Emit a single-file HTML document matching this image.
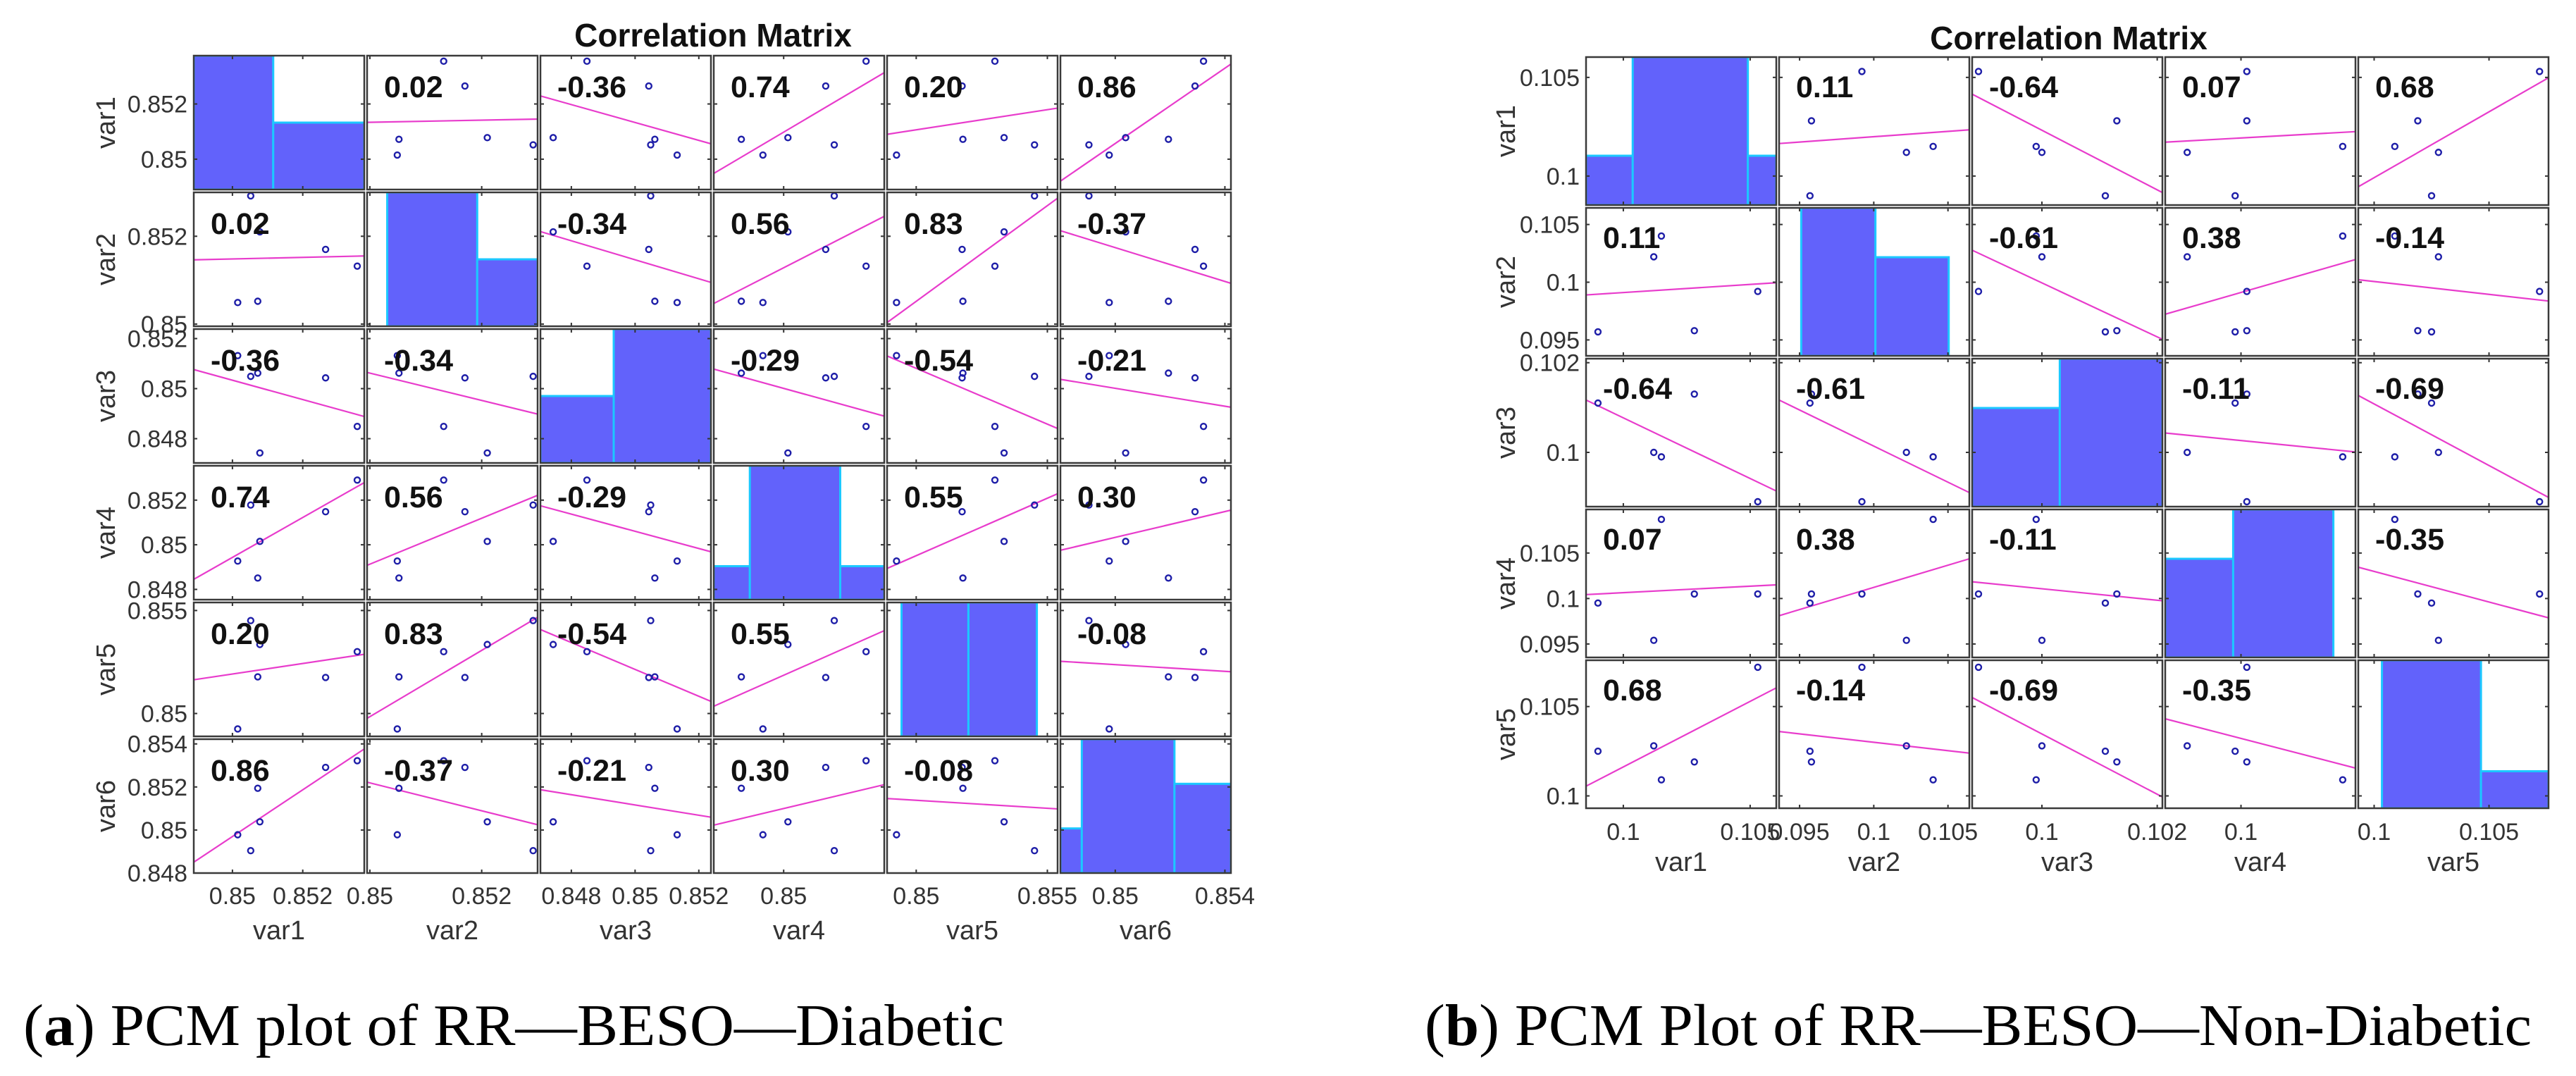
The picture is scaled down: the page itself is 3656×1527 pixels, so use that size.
<!DOCTYPE html>
<html>
<head>
<meta charset="utf-8">
<style>
  html, body { margin: 0; padding: 0; background: #ffffff; }
  body { width: 3656px; height: 1522px; overflow: hidden; }
  svg text { font-family: "Liberation Sans", Arial, sans-serif; }
  .cap { font-family: "Liberation Serif", "Times New Roman", serif; }
</style>
</head>
<body>
<svg id="fig" xmlns="http://www.w3.org/2000/svg" width="3656" height="1522" viewBox="0 0 3656 1522">
  <rect x="0" y="0" width="3656" height="1522" fill="#ffffff"/>
  <text x="1012" y="66" text-anchor="middle" font-size="46" font-weight="bold" fill="#111">Correlation Matrix</text>
  <text x="2936" y="70" text-anchor="middle" font-size="46" font-weight="bold" fill="#111">Correlation Matrix</text>
  <text class="cap" x="33" y="1483" font-size="84" fill="#000" textLength="1392" lengthAdjust="spacingAndGlyphs">(<tspan font-weight="bold">a</tspan>) PCM plot of RR—BESO—Diabetic</text>
  <text class="cap" x="2022" y="1483" font-size="84" fill="#000" textLength="1571" lengthAdjust="spacingAndGlyphs">(<tspan font-weight="bold">b</tspan>) PCM Plot of RR—BESO—Non-Diabetic</text>
  <g id="left-panel"></g>
  <g id="right-panel"></g>
</svg>
<script>
// ---------- Left panel (Diabetic) data: 6 observations ----------
const leftNames = ['var1', 'var2', 'var3', 'var4', 'var5', 'var6'];
const leftVar1 = [0.85015, 0.85052, 0.85078, 0.85072, 0.85265, 0.85355];
const leftVar2 = [0.85049, 0.85292, 0.85210, 0.85052, 0.85170, 0.85132];
const leftVar3 = [0.85132, 0.85049, 0.84743, 0.85062, 0.85043, 0.84849];
const leftVar4 = [0.84927, 0.85178, 0.85015, 0.84851, 0.85148, 0.85290];
const leftVar5 = [0.84925, 0.85451, 0.85335, 0.85178, 0.85175, 0.85300];
const leftVar6 = [0.84978, 0.84904, 0.85038, 0.85194, 0.85291, 0.85322];
const leftLo = [0.84890, 0.84995, 0.84703, 0.84754, 0.84889, 0.84800];
const leftHi = [0.85375, 0.85300, 0.85238, 0.85354, 0.85539, 0.85422];
const leftTicks1 = [0.85, 0.852];
const leftTicks2 = [0.85, 0.852];
const leftTicks3 = [0.848, 0.85, 0.852];
const leftXTicks4 = [0.85];
const leftYTicks4 = [0.848, 0.85, 0.852];
const leftTicks5 = [0.85, 0.855];
const leftXTicks6 = [0.85, 0.854];
const leftYTicks6 = [0.848, 0.85, 0.852, 0.854];
const leftHistEdges1 = [0.84890, 0.85116, 0.85375];
const leftHistCounts1 = [4, 2];
const leftHistEdges2 = [0.85031, 0.85192, 0.85300];
const leftHistCounts2 = [4, 2];
const leftHistEdges3 = [0.84703, 0.84933, 0.85238];
const leftHistCounts3 = [2, 4];
const leftHistEdges4 = [0.84754, 0.84881, 0.85199, 0.85354];
const leftHistCounts4 = [1, 4, 1];
const leftHistEdges5 = [0.84944, 0.85199, 0.85460];
const leftHistCounts5 = [3, 3];
const leftHistEdges6 = [0.84800, 0.84878, 0.85216, 0.85422];
const leftHistCounts6 = [1, 3, 2];
const leftCorrRow1 = ['0.02', '-0.36', '0.74', '0.20', '0.86'];
const leftCorrRow2 = ['-0.34', '0.56', '0.83', '-0.37'];
const leftCorrRow3 = ['-0.29', '-0.54', '-0.21'];
const leftCorrRow4 = ['0.55', '0.30'];
const leftCorrRow5 = ['-0.08'];

// ---------- Right panel (Non-Diabetic) data: 5 observations ----------
const rightNames = ['var1', 'var2', 'var3', 'var4', 'var5'];
const rightVar1 = [0.1053, 0.1028, 0.1012, 0.1015, 0.0990];
const rightVar2 = [0.0992, 0.0958, 0.1022, 0.1040, 0.0957];
const rightVar3 = [0.0989, 0.1013, 0.1000, 0.0999, 0.1011];
const rightVar4 = [0.1005, 0.1005, 0.0954, 0.1087, 0.0995];
const rightVar5 = [0.1072, 0.1019, 0.1028, 0.1009, 0.1025];
const rightLo = [0.09853, 0.09362, 0.09879, 0.09352, 0.09931];
const rightHi = [0.10603, 0.10644, 0.10209, 0.10979, 0.10759];
const rightTicks1 = [0.1, 0.105];
const rightTicks2 = [0.095, 0.1, 0.105];
const rightTicks3 = [0.1, 0.102];
const rightXTicks4 = [0.1];
const rightYTicks4 = [0.095, 0.1, 0.105];
const rightTicks5 = [0.1, 0.105];
const rightHistEdges1 = [0.09853, 0.10037, 0.10491, 0.10603];
const rightHistCounts1 = [1, 3, 1];
const rightHistEdges2 = [0.09511, 0.10011, 0.10505];
const rightHistCounts2 = [3, 2];
const rightHistEdges3 = [0.09879, 0.10031, 0.10209];
const rightHistCounts3 = [2, 3];
const rightHistEdges4 = [0.09352, 0.09933, 0.10790];
const rightHistCounts4 = [2, 3];
const rightHistEdges5 = [0.10034, 0.10465, 0.10759];
const rightHistCounts5 = [4, 1];
const rightCorrRow1 = ['0.11', '-0.64', '0.07', '0.68'];
const rightCorrRow2 = ['-0.61', '0.38', '-0.14'];
const rightCorrRow3 = ['-0.11', '-0.69'];
const rightCorrRow4 = ['-0.35'];

const NS = 'http://www.w3.org/2000/svg';
function mk(tag, attrs) {
  const e = document.createElementNS(NS, tag);
  for (const k in attrs) e.setAttribute(k, attrs[k]);
  return e;
}
function fmt(v) { return String(+v.toFixed(4)); }

function drawPanel(root, cfg) {
  const n = cfg.names.length;
  const defs = mk('defs', {});
  root.appendChild(defs);
  for (let i = 0; i < n; i++) {
    for (let j = 0; j < n; j++) {
      const cx = cfg.left + j * (cfg.cw + cfg.gap);
      const cy = cfg.top + i * (cfg.ch + cfg.gap);
      const xs = v => cx + (v - cfg.lo[j]) / (cfg.hi[j] - cfg.lo[j]) * cfg.cw;
      const ys = v => cy + cfg.ch - (v - cfg.lo[i]) / (cfg.hi[i] - cfg.lo[i]) * cfg.ch;
      const g = mk('g', {});
      
      
      const cid = cfg.id + '-clip-' + i + '-' + j;
      const cp = mk('clipPath', { id: cid });
      cp.appendChild(mk('rect', { x: cx, y: cy, width: cfg.cw, height: cfg.ch }));
      defs.appendChild(cp);
      g.appendChild(mk('rect', { x: cx, y: cy, width: cfg.cw, height: cfg.ch, fill: '#ffffff' }));
      const inner = mk('g', { 'clip-path': 'url(#' + cid + ')' });
      g.appendChild(inner);
      if (i === j) {
        const edges = cfg.histEdges[i], counts = cfg.histCounts[i];
        const maxC = Math.max.apply(null, counts);
        for (let b = 0; b < counts.length; b++) {
          const x0 = xs(edges[b]), x1 = xs(edges[b + 1]);
          const h = counts[b] / maxC * cfg.ch;
          const bar = mk('rect', { x: x0, y: cy + cfg.ch - h, width: x1 - x0, height: h, fill: '#6262fb', stroke: '#1cc8ff', 'stroke-width': 3 });
          
          
          inner.appendChild(bar);
        }
      } else {
        const xv = cfg.data[j], yv = cfg.data[i];
        const m = xv.length;
        let mx = 0, my = 0;
        for (let k = 0; k < m; k++) { mx += xv[k]; my += yv[k]; }
        mx /= m; my /= m;
        let sxy = 0, sxx = 0;
        for (let k = 0; k < m; k++) { sxy += (xv[k] - mx) * (yv[k] - my); sxx += (xv[k] - mx) * (xv[k] - mx); }
        const slope = sxy / sxx, icpt = my - slope * mx;
        const ln = mk('line', { x1: xs(cfg.lo[j]), y1: ys(icpt + slope * cfg.lo[j]), x2: xs(cfg.hi[j]), y2: ys(icpt + slope * cfg.hi[j]), stroke: '#e83ccc', 'stroke-width': 2.2 });
        
        
        inner.appendChild(ln);
        for (let k = 0; k < m; k++) {
          const c = mk('circle', { cx: xs(xv[k]), cy: ys(yv[k]), r: 4, fill: 'none', stroke: '#1e1ea8', 'stroke-width': 2.4 });
          
          
          inner.appendChild(c);
        }
        const a = Math.min(i, j), b2 = Math.max(i, j);
        const t = mk('text', { x: cx + cfg.corrDx, y: cy + cfg.corrDy, 'font-size': 43, 'font-weight': 'bold', fill: '#111' });
        t.textContent = cfg.corr[a][b2 - a - 1];
        
        
        g.appendChild(t);
      }
      // tick marks
      cfg.xTicks[j].forEach(v => {
        const x = xs(v);
        g.appendChild(mk('line', { x1: x, y1: cy + cfg.ch, x2: x, y2: cy + cfg.ch - 5, stroke: '#333', 'stroke-width': 2 }));
        g.appendChild(mk('line', { x1: x, y1: cy, x2: x, y2: cy + 5, stroke: '#333', 'stroke-width': 2 }));
      });
      cfg.yTicks[i].forEach(v => {
        const y = ys(v);
        g.appendChild(mk('line', { x1: cx, y1: y, x2: cx + 5, y2: y, stroke: '#333', 'stroke-width': 2 }));
        g.appendChild(mk('line', { x1: cx + cfg.cw, y1: y, x2: cx + cfg.cw - 5, y2: y, stroke: '#333', 'stroke-width': 2 }));
      });
      g.appendChild(mk('rect', { x: cx, y: cy, width: cfg.cw, height: cfg.ch, fill: 'none', stroke: '#3a3a3a', 'stroke-width': 2.5 }));
      if (j === 0) {
        cfg.yTicks[i].forEach(v => {
          const tt = mk('text', { x: cfg.yTickX, y: ys(v) + 12, 'text-anchor': 'end', 'font-size': 34, fill: '#333' });
          tt.textContent = fmt(v);
          
          
          g.appendChild(tt);
        });
        const yl = mk('text', { x: cfg.yLabelX, y: cy + cfg.ch / 2 + 13, 'text-anchor': 'middle', 'font-size': 38, fill: '#333', transform: 'rotate(-90 ' + cfg.yLabelX + ' ' + (cy + cfg.ch / 2) + ')' });
        yl.textContent = cfg.names[i];
        
        
        g.appendChild(yl);
      }
      if (i === n - 1) {
        cfg.xTicks[j].forEach(v => {
          const tt = mk('text', { x: xs(v), y: cfg.xTickY, 'text-anchor': 'middle', 'font-size': 34, fill: '#333' });
          tt.textContent = fmt(v);
          
          
          g.appendChild(tt);
        });
        const xl = mk('text', { x: cx + cfg.cw / 2, y: cfg.xLabelY, 'text-anchor': 'middle', 'font-size': 38, fill: '#333' });
        xl.textContent = cfg.names[j];
        
        
        g.appendChild(xl);
      }
      root.appendChild(g);
    }
  }
}

drawPanel(document.getElementById('left-panel'), {
  id: 'L', names: leftNames,
  data: [leftVar1, leftVar2, leftVar3, leftVar4, leftVar5, leftVar6],
  lo: leftLo, hi: leftHi,
  xTicks: [leftTicks1, leftTicks2, leftTicks3, leftXTicks4, leftTicks5, leftXTicks6],
  yTicks: [leftTicks1, leftTicks2, leftTicks3, leftYTicks4, leftTicks5, leftYTicks6],
  histEdges: [leftHistEdges1, leftHistEdges2, leftHistEdges3, leftHistEdges4, leftHistEdges5, leftHistEdges6],
  histCounts: [leftHistCounts1, leftHistCounts2, leftHistCounts3, leftHistCounts4, leftHistCounts5, leftHistCounts6],
  corr: [leftCorrRow1, leftCorrRow2, leftCorrRow3, leftCorrRow4, leftCorrRow5],
  left: 275, top: 79, cw: 242, ch: 190, gap: 4,
  corrDx: 24, corrDy: 59,
  yTickX: 266, yLabelX: 150, xTickY: 1283, xLabelY: 1333
});

drawPanel(document.getElementById('right-panel'), {
  id: 'R', names: rightNames,
  data: [rightVar1, rightVar2, rightVar3, rightVar4, rightVar5],
  lo: rightLo, hi: rightHi,
  xTicks: [rightTicks1, rightTicks2, rightTicks3, rightXTicks4, rightTicks5],
  yTicks: [rightTicks1, rightTicks2, rightTicks3, rightYTicks4, rightTicks5],
  histEdges: [rightHistEdges1, rightHistEdges2, rightHistEdges3, rightHistEdges4, rightHistEdges5],
  histCounts: [rightHistCounts1, rightHistCounts2, rightHistCounts3, rightHistCounts4, rightHistCounts5],
  corr: [rightCorrRow1, rightCorrRow2, rightCorrRow3, rightCorrRow4],
  left: 2251, top: 81, cw: 270, ch: 210, gap: 4,
  corrDx: 24, corrDy: 57,
  yTickX: 2242, yLabelX: 2137, xTickY: 1192, xLabelY: 1236
});
</script>
</body>
</html>
